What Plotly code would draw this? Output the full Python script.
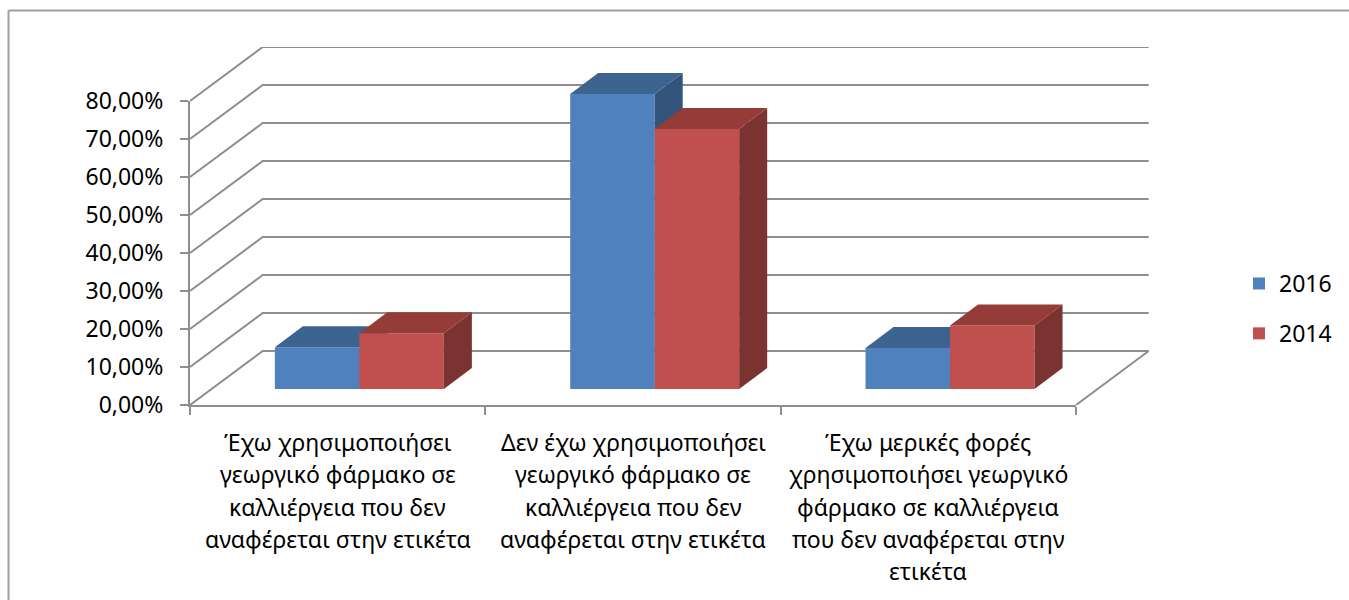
"""3D-looking clustered bar chart, two survey years"""

import plotly.graph_objects as go

CATEGORY_LINES = [
    ["Έχω χρησιμοποιήσει", "γεωργικό φάρμακο σε", "καλλιέργεια που δεν", "αναφέρεται στην ετικέτα"],
    ["Δεν έχω χρησιμοποιήσει", "γεωργικό φάρμακο σε", "καλλιέργεια που δεν", "αναφέρεται στην ετικέτα"],
    ["Έχω μερικές φορές", "χρησιμοποιήσει γεωργικό", "φάρμακο σε καλλιέργεια", "που δεν αναφέρεται στην", "ετικέτα"],
]
VALUES_2016 = [11.0, 77.6, 10.8]
VALUES_2014 = [14.7, 68.4, 16.7]
TICK_VALUES = [0, 10, 20, 30, 40, 50, 60, 70, 80]
TICK_LABELS = ["0,00%", "10,00%", "20,00%", "30,00%", "40,00%", "50,00%", "60,00%", "70,00%", "80,00%"]

# pixel box of the plot and the oblique projection, in the page's 1349x600
WIDTH, HEIGHT = 1349, 600
LEFT, RIGHT, TOP, BOTTOM = 190, 1150, 47, 405
PX_PER_CAT = 295.33
PX_PER_PCT = 3.8
WALL_DX = 72.7 / PX_PER_CAT
WALL_DY = 54 / PX_PER_PCT
BAR_DX = 28 / PX_PER_CAT
BAR_DY = 21 / PX_PER_PCT
FLOOR_DX = 21.7 / PX_PER_CAT
FLOOR_DY = 16 / PX_PER_PCT
BAR_W = 84.5 / PX_PER_CAT

AXIS_COLOR = "#8e8e8e"
FONT = "Noto Sans"
FONT_SIZE = 23


def paper_x(px):
    return (px - LEFT) / (RIGHT - LEFT)


def paper_y(px):
    return (BOTTOM - px) / (BOTTOM - TOP)


def add_series(fig, values, name, front, top, side, first, axis):
    """Front faces are real bars, top and side are projected from the same values"""
    xs = [i + 0.5 + FLOOR_DX + (-BAR_W if first else 0) for i in range(len(values))]
    top_x, top_y, side_x, side_y = [], [], [], []
    for x0, v in zip(xs, values):
        x1 = x0 + BAR_W
        y1 = FLOOR_DY + v
        top_x += [x0, x1, x1 + BAR_DX, x0 + BAR_DX, x0, None]
        top_y += [y1, y1, y1 + BAR_DY, y1 + BAR_DY, y1, None]
        side_x += [x1, x1 + BAR_DX, x1 + BAR_DX, x1, x1, None]
        side_y += [FLOOR_DY, FLOOR_DY + BAR_DY, y1 + BAR_DY, y1, FLOOR_DY, None]

    fig.add_trace(go.Bar(
        x=xs, y=values, base=FLOOR_DY, width=BAR_W, offset=0,
        marker=dict(color=front, line=dict(width=0)),
        name=name, legendgroup=name,
        xaxis=f"x{axis}", yaxis=f"y{axis}",
    ))
    for px, py, color in [(side_x, side_y, side), (top_x, top_y, top)]:
        fig.add_trace(go.Scatter(
            x=px, y=py, mode="lines", fill="toself", fillcolor=color,
            line=dict(width=0), hoverinfo="skip", showlegend=False,
            xaxis=f"x{axis}", yaxis=f"y{axis}",
        ))


fig = go.Figure()

# Back wall, left wall and floor edges
n_cat = len(CATEGORY_LINES)
wall_x, wall_y = [], []
for v in TICK_VALUES:
    wall_x += [0, WALL_DX, n_cat + WALL_DX, None]
    wall_y += [v, v + WALL_DY, v + WALL_DY, None]
wall_x += [n_cat, n_cat + WALL_DX, None]
wall_y += [0, WALL_DY, None]
fig.add_trace(go.Scatter(
    x=wall_x, y=wall_y, mode="lines", line=dict(color=AXIS_COLOR, width=2),
    hoverinfo="skip", showlegend=False, xaxis="x2", yaxis="y2",
))

add_series(fig, VALUES_2016, "2016", "#4F81BD", "#3D6491", "#33547B", True, 3)
add_series(fig, VALUES_2014, "2014", "#C0504D", "#953B38", "#7A3331", False, 4)

# Category labels line by line, the original line spacing is wider than tick labels allow
annotations = []
for i, lines in enumerate(CATEGORY_LINES):
    for k, line in enumerate(lines):
        annotations.append(dict(
            x=i + 0.5, xref="x", y=0, yref="paper", text=line, showarrow=False,
            xanchor="center", yanchor="middle", yshift=-(37 + k * 32.3),
            font=dict(family=FONT, size=FONT_SIZE, color="#000000"),
        ))

full_range_x = [0, (RIGHT - LEFT) / PX_PER_CAT]
full_range_y = [0, (BOTTOM - TOP) / PX_PER_PCT]
hidden_x = dict(range=full_range_x, domain=[0, 1], visible=False, fixedrange=True)
hidden_y = dict(range=full_range_y, domain=[0, 1], visible=False, fixedrange=True)

fig.update_layout(
    width=WIDTH,
    height=HEIGHT,
    margin=dict(l=LEFT, r=WIDTH - RIGHT, t=TOP, b=HEIGHT - BOTTOM, autoexpand=False),
    paper_bgcolor="white",
    plot_bgcolor="rgba(0,0,0,0)",
    font=dict(family=FONT, size=FONT_SIZE, color="#000000"),
    xaxis=dict(
        domain=[0, 3 * PX_PER_CAT / (RIGHT - LEFT)], range=[0, n_cat],
        tickvals=list(range(n_cat + 1)), showticklabels=False,
        ticks="outside", ticklen=8, tickwidth=2, tickcolor=AXIS_COLOR,
        showline=True, linecolor=AXIS_COLOR, linewidth=2,
        showgrid=False, zeroline=False, fixedrange=True,
    ),
    yaxis=dict(
        domain=[0, 80 * PX_PER_PCT / (BOTTOM - TOP)], range=[0, 80],
        tickvals=TICK_VALUES, ticktext=TICK_LABELS, ticklabelstandoff=12,
        ticks="outside", ticklen=8, tickwidth=2, tickcolor=AXIS_COLOR,
        showline=True, linecolor=AXIS_COLOR, linewidth=2,
        showgrid=False, zeroline=False, fixedrange=True,
    ),
    # Separate full-size panels on top of each other, so that 2014 hides the side of 2016
    xaxis2=dict(hidden_x, anchor="y2"),
    yaxis2=dict(hidden_y, anchor="x2"),
    xaxis3=dict(hidden_x, anchor="y3"),
    yaxis3=dict(hidden_y, anchor="x3"),
    xaxis4=dict(hidden_x, anchor="y4"),
    yaxis4=dict(hidden_y, anchor="x4"),
    legend=dict(
        x=paper_x(1239), y=paper_y(262), xanchor="left", yanchor="top",
        font=dict(family=FONT, size=FONT_SIZE), tracegroupgap=17,
        traceorder="grouped", itemclick=False, itemdoubleclick=False,
    ),
    annotations=annotations,
    # Outer chart frame, only its left and top edges fall inside the picture
    shapes=[
        dict(type="line", xref="paper", yref="paper", layer="below",
             x0=paper_x(8.5), x1=paper_x(8.5), y0=paper_y(10.5), y1=paper_y(600),
             line=dict(color="#a0a0a0", width=2)),
        dict(type="line", xref="paper", yref="paper", layer="below",
             x0=paper_x(8.5), x1=paper_x(1349), y0=paper_y(10.5), y1=paper_y(10.5),
             line=dict(color="#a0a0a0", width=2)),
    ],
)

fig.write_html(
    "out.html",
    config=dict(displayModeBar=False),
    post_script="document.body.style.margin='0';",
)
